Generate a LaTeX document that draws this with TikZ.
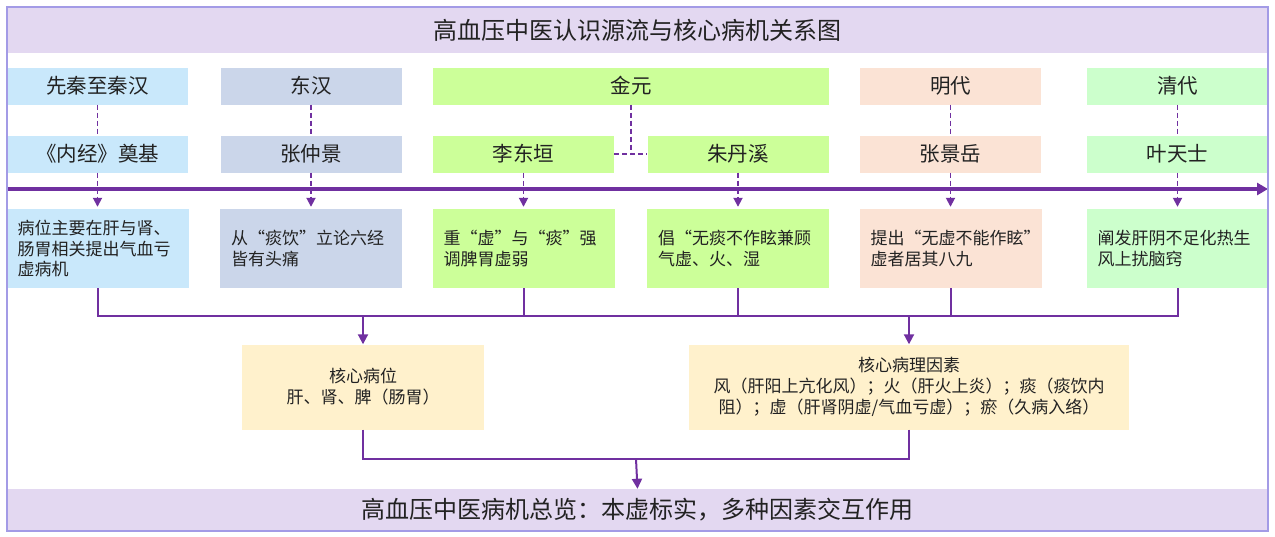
\documentclass[tikz,border=0pt]{standalone}
\usepackage{fontspec}
\setmainfont{Noto Sans CJK SC}
\usetikzlibrary{arrows.meta}

\definecolor{framec}{HTML}{A39BE6}
\definecolor{bandc}{HTML}{E3D8F1}
\definecolor{linec}{HTML}{7030A0}
\definecolor{qinc}{HTML}{C9E8FB}
\definecolor{hanc}{HTML}{CBD6EA}
\definecolor{jinc}{HTML}{CCFF99}
\definecolor{mingc}{HTML}{FBE3D5}
\definecolor{qingc}{HTML}{CCFFCC}
\definecolor{corec}{HTML}{FFF1CC}
\definecolor{textc}{HTML}{222222}

\tikzset{
  era/.style={minimum width=181pt, minimum height=37pt, inner sep=0pt,
    text=textc, font=\fontsize{20.5}{24}\selectfont},
  note/.style={minimum height=79pt, text width=160pt, inner xsep=11pt,
    inner ysep=0pt, align=left, text=textc, font=\fontsize{17}{20.5}\selectfont},
  core/.style={fill=corec, minimum height=85pt, inner sep=0pt, align=center,
    text=textc, font=\fontsize{17}{21}\selectfont},
  band/.style={fill=bandc, minimum width=1261pt, inner sep=0pt, text=textc},
  hop/.style={draw=linec, line width=1.8pt, dash pattern=on 5pt off 3pt},
  link/.style={draw=linec, line width=2pt},
  flow/.style={link, -{Triangle[width=10pt,length=10pt]}},
  timeline/.style={draw=linec, line width=3.8pt, -{Triangle[width=12pt,length=11pt]}}
}

\begin{document}
\begin{tikzpicture}[x=1pt, y=-1pt]
  \useasboundingbox (0,0) rectangle (1275,536);

  % bands
  \node[band, minimum height=46pt, font=\fontsize{24}{28}\selectfont] (T) at (637.5,30) {高血压中医认识源流与核心病机关系图};
  \node[band, minimum height=42pt, font=\fontsize{24}{28}\selectfont] (S) at (637.5,510) {高血压中医病机总览：本虚标实，多种因素交互作用};

  % eras
  \node[era, fill=qinc] (E1) at (97.5,86) {先秦至秦汉};
  \node[era, fill=hanc] (E2) at (311,86) {东汉};
  \node[era, fill=jinc, minimum width=396pt] (E3) at (631,86) {金元};
  \node[era, fill=mingc] (E4) at (950.5,86) {明代};
  \node[era, fill=qingc] (E5) at (1177.5,86) {清代};

  % people
  \node[era, fill=qinc] (P1) at (97.5,154) {《内经》奠基};
  \node[era, fill=hanc] (P2) at (311,154) {张仲景};
  \node[era, fill=jinc] (P3) at (523.5,154) {李东垣};
  \node[era, fill=jinc] (P4) at (738,154) {朱丹溪};
  \node[era, fill=mingc] (P5) at (950.5,154) {张景岳};
  \node[era, fill=qingc] (P6) at (1177.5,154) {叶天士};

  % views
  \node[note, fill=qinc] (D1) at (97.5,248.5) {病位主要在肝与肾、\\肠胃相关提出气血亏\\虚病机};
  \node[note, fill=hanc] (D2) at (311,248.5) {从“痰饮”立论六经\\皆有头痛};
  \node[note, fill=jinc] (D3) at (523.5,248.5) {重“虚”与“痰”强\\调脾胃虚弱};
  \node[note, fill=jinc] (D4) at (738,248.5) {倡“无痰不作眩兼顾\\气虚、火、湿};
  \node[note, fill=mingc] (D5) at (950.5,248.5) {提出“无虚不能作眩”\\虚者居其八九};
  \node[note, fill=qingc] (D6) at (1177.5,248.5) {阐发肝阴不足化热生\\风上扰脑窍};

  % core
  \node[core, minimum width=242pt] (CL) at (363,387) {核心病位\\肝、肾、脾（肠胃）};
  \node[core, minimum width=440pt] (CR) at (909,387) {核心病理因素\\风（肝阳上亢化风）；火（肝火上炎）；痰（痰饮内\\阻）；虚（肝肾阴虚/气血亏虚）；瘀（久病入络）};

  % time axis
  \coordinate (A0) at (7,189);
  \coordinate (A1) at (1268,189);
  \draw[timeline] (A0) -- (A1);

  \draw[hop] (E1) -- (P1);
  \draw[hop] (E2) -- (P2);
  \draw[hop] (E4) -- (P5);
  \draw[hop] (E5) -- (P6);
  \coordinate (J) at (E3.south |- P3.east);
  \draw[hop] (E3.south) -- (J);
  \draw[hop] (P3.east) -- (P4.west);

  \foreach \i in {1,...,6}
    \draw[hop, -{Triangle[width=9pt,length=9pt]}, shorten >=2pt] (P\i) -- (D\i);

  % merge
  \coordinate (BL) at (363,316);
  \coordinate (BR) at (909,316);
  \coordinate (BM) at (636,459);
  \draw[link] (D1.south) |- (BL);
  \draw[link] (D3.south) |- (BL);
  \draw[link] (D6.south) |- (BL);
  \draw[link] (D4.south) |- (BR);
  \draw[link] (D5.south) |- (BR);
  \draw[flow] (BL) -- (CL.north);
  \draw[flow] (BR) -- (CR.north);
  \draw[link] (CL.south) |- (BM);
  \draw[link] (CR.south) |- (BM);
  \draw[flow] (BM) -- (S.north);

  \draw[framec, line width=1.6pt] (7,7) rectangle (1268,531);
\end{tikzpicture}
\end{document}
